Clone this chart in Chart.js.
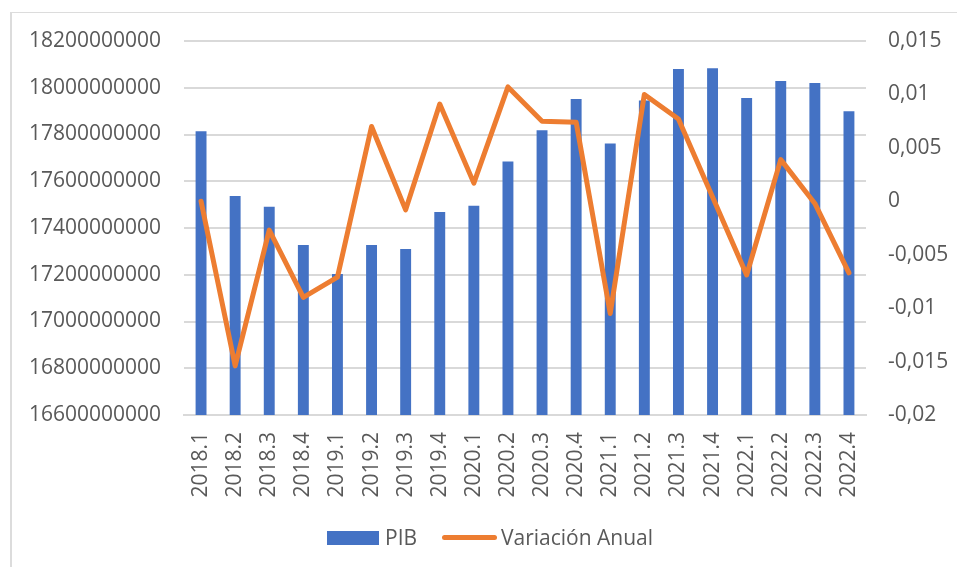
<!DOCTYPE html>
<html>
<head>
<meta charset="utf-8">
<script src="https://cdn.jsdelivr.net/npm/chart.js@4.4.1/dist/chart.umd.min.js"></script>
<style>
    body { margin: 0; background: #fff; }
    #wrap { position: relative; width: 957px; height: 567px; overflow: hidden; }
    #frame { position: absolute; left: 10px; top: 12px; right: -5px; bottom: -5px; border-left: 2px solid #dcdcdc; border-top: 1px solid #dcdcdc; }
    #chart { position: absolute; left: 0; top: 0; }
    .legend { position: absolute; font-family: "Open Sans", sans-serif; font-size: 21px; color: #595959; line-height: 28px; }
</style>
</head>
<body>
<div id="wrap">
    <div id="frame"></div>
    <canvas id="chart" width="957" height="567"></canvas>
    <div class="legend" style="left:327px; top:531px; width:52px; height:14px; background:#4472C4;"></div>
    <div class="legend" style="left:385px; top:523px;">PIB</div>
    <div class="legend" style="left:442px; top:535px; width:55px; height:5px; border-radius:3px; background:#ED7D31;"></div>
    <div class="legend" style="left:501px; top:523px;">Variación Anual</div>
</div>
<script>
var quarters = ['2018.1', '2018.2', '2018.3', '2018.4', '2019.1', '2019.2', '2019.3', '2019.4',
    '2020.1', '2020.2', '2020.3', '2020.4', '2021.1', '2021.2', '2021.3', '2021.4',
    '2022.1', '2022.2', '2022.3', '2022.4'];
var pib = [17814000000, 17537000000, 17491000000, 17327000000, 17203000000, 17327000000, 17310000000, 17468000000,
    17495000000, 17685000000, 17818000000, 17952000000, 17761000000, 17945000000, 18080000000, 18083000000,
    17956000000, 18029000000, 18020000000, 17900000000];
var variacion = [0.0000, -0.0154, -0.0027, -0.0090, -0.0071, 0.0070, -0.0008, 0.0091,
    0.0017, 0.0107, 0.0075, 0.0074, -0.0105, 0.0100, 0.0077, 0.0004,
    -0.0069, 0.0039, -0.0002, -0.0067];

var textColor = '#595959';
var gridColor = '#d9d9d9';
var tickFont = { family: 'Open Sans', size: 21 };

new Chart(document.getElementById('chart'), {
    type: 'bar',
    data: {
        labels: quarters,
        datasets: [{
            type: 'line',
            label: 'Variación Anual',
            data: variacion,
            yAxisID: 'y1',
            borderColor: '#ED7D31',
            backgroundColor: '#ED7D31',
            borderWidth: 5,
            pointRadius: 0,
            tension: 0,
            borderJoinStyle: 'round',
            borderCapStyle: 'round',
            order: 0
        }, {
            type: 'bar',
            label: 'PIB',
            data: pib,
            yAxisID: 'y',
            backgroundColor: '#4472C4',
            barPercentage: 0.32,
            categoryPercentage: 1,
            order: 1
        }]
    },
    options: {
        responsive: false,
        animation: false,
        layout: { padding: { top: 41, left: 0, right: 0, bottom: 0 } },
        plugins: {
            legend: { display: false },
            tooltip: { enabled: false }
        },
        scales: {
            x: {
                grid: { display: false, drawTicks: false },
                border: { display: true, color: gridColor, width: 2 },
                ticks: {
                    color: textColor,
                    font: tickFont,
                    maxRotation: 90,
                    minRotation: 90,
                    autoSkip: false,
                    padding: 17
                },
                afterFit: function (scale) { scale.height = 152; }
            },
            y: {
                position: 'left',
                min: 16600000000,
                max: 18200000000,
                grid: { color: gridColor, lineWidth: 2, drawTicks: false },
                border: { display: false },
                ticks: {
                    stepSize: 200000000,
                    color: textColor,
                    font: tickFont,
                    padding: 23,
                    callback: function (value) { return String(value); }
                },
                afterFit: function (scale) { scale.width = 184; }
            },
            y1: {
                position: 'right',
                min: -0.02,
                max: 0.015,
                grid: { display: false, drawTicks: false },
                border: { display: false },
                ticks: {
                    stepSize: 0.005,
                    color: textColor,
                    font: tickFont,
                    padding: 22,
                    callback: function (value) {
                        return parseFloat(value.toFixed(4)).toString().replace('.', ',');
                    }
                },
                afterFit: function (scale) { scale.width = 91; }
            }
        }
    }
});
</script>
</body>
</html>
